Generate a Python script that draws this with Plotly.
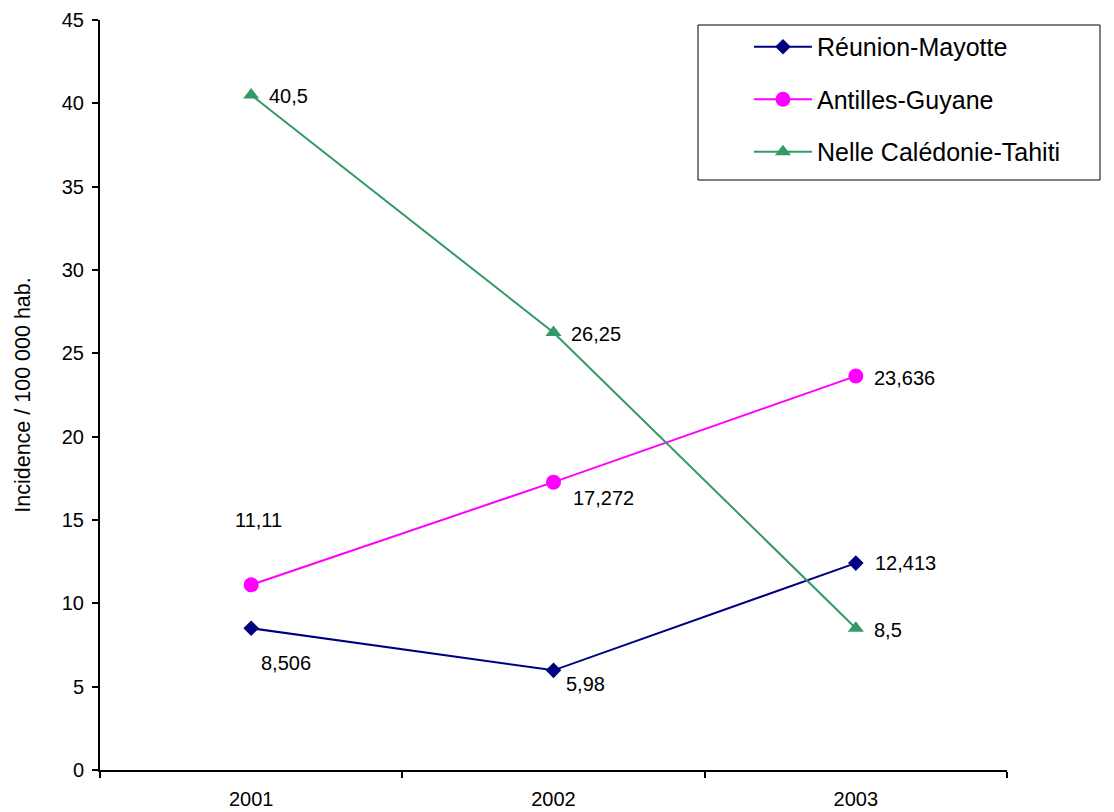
import plotly.graph_objects as go

years = ["2001", "2002", "2003"]
reunion_mayotte = [8.506, 5.98, 12.413]
antilles_guyane = [11.11, 17.272, 23.636]
caledonie_tahiti = [40.5, 26.25, 8.5]

series = [
    ("Réunion-Mayotte", reunion_mayotte, "#000080", "diamond", 12),
    ("Antilles-Guyane", antilles_guyane, "#FF00FF", "circle", 15),
    ("Nelle Calédonie-Tahiti", caledonie_tahiti, "#339966", "triangle-up", 14),
]

# label offsets (px) for each point label, per series
label_offsets = [
    [(35, -35), (32, -14), (50, 0)],
    [(7, 65), (50, -16), (49, -2)],
    [(37, -1), (42, -1), (32, -2)],
]

FONT = "Liberation Sans, Arial, sans-serif"

fig = go.Figure()
annotations = []
for i, (name, vals, color, symbol, size) in enumerate(series):
    fig.add_trace(go.Scatter(
        x=years, y=vals, name=name, mode="lines+markers",
        line=dict(color=color, width=2),
        marker=dict(symbol=symbol, size=size, color=color),
        legendgroup=name,
    ))
    for j, v in enumerate(vals):
        dx, dy = label_offsets[i][j]
        annotations.append(dict(
            x=j, y=v, xref="x", yref="y",
            text=f"{v:g}".replace(".", ","),
            showarrow=False, xshift=dx, yshift=dy,
            font=dict(family=FONT, size=20, color="black"),
        ))

fig.update_layout(
    width=1114, height=812,
    margin=dict(l=100, r=107, t=20, b=42),
    paper_bgcolor="white", plot_bgcolor="white",
    font=dict(family=FONT, size=20, color="black"),
    showlegend=True,
    legend=dict(
        x=0.7155, y=0.9947, xanchor="left", yanchor="top",
        bgcolor="rgba(0,0,0,0)", borderwidth=0,
        font=dict(family=FONT, size=25, color="black"),
        tracegroupgap=17, itemwidth=58,
    ),
    annotations=annotations,
    shapes=[dict(
        type="rect", xref="paper", yref="paper",
        x0=(698 - 100) / 907, x1=(1100 - 100) / 907,
        y0=(770 - 180) / 750, y1=(770 - 25) / 750,
        line=dict(color="black", width=1), fillcolor="rgba(0,0,0,0)",
    )],
)

fig.update_xaxes(
    type="category", range=[-0.5, 2.5], automargin=False,
    showline=True, linecolor="black", linewidth=2,
    ticks="outside", tickson="boundaries", ticklen=6, tickwidth=2, tickcolor="black",
    showgrid=False, zeroline=False,
    tickfont=dict(family=FONT, size=20), ticklabelstandoff=10,
)
fig.update_yaxes(
    range=[0, 45], dtick=5, automargin=False,
    showline=True, linecolor="black", linewidth=2,
    ticks="outside", ticklen=6, tickwidth=2, tickcolor="black",
    showgrid=False, zeroline=False,
    tickfont=dict(family=FONT, size=20), ticklabelstandoff=4,
    title=dict(text="Incidence / 100 000 hab.", font=dict(family=FONT, size=21.5), standoff=25),
)

fig.write_html("out.html")
